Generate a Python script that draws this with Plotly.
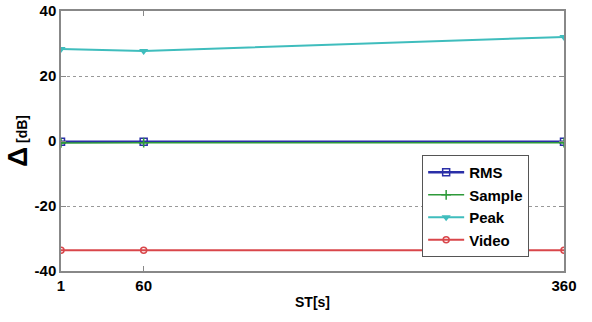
import plotly.graph_objects as go

st = [1, 60, 360]
rms = [-0.2, -0.2, -0.2]
sample = [-0.6, -0.5, -0.5]
peak = [28.3, 27.7, 32.0]
video = [-33.6, -33.6, -33.6]
x_ticks = [1, 60, 360]
y_ticks = [-40, -20, 0, 20, 40]
y_labels = ["-40", "-20", "0", "20", "40"]

fig = go.Figure()
fig.add_trace(go.Scatter(x=st, y=rms, name="RMS", mode="lines+markers",
                         line=dict(color="#2a2fa8", width=2.5),
                         marker=dict(symbol="square-open", size=7, color="#2a2fa8", line=dict(width=1.5))))
fig.add_trace(go.Scatter(x=st, y=sample, name="Sample", mode="lines+markers",
                         line=dict(color="#2e9a3a", width=1.5),
                         marker=dict(symbol="cross-thin-open", size=7, color="#2e9a3a", line=dict(width=1.5))))
fig.add_trace(go.Scatter(x=st, y=peak, name="Peak", mode="lines+markers",
                         line=dict(color="#3fbdbd", width=2),
                         marker=dict(symbol="triangle-down", size=8, color="#3fbdbd")))
fig.add_trace(go.Scatter(x=st, y=video, name="Video", mode="lines+markers",
                         line=dict(color="#d9464a", width=2),
                         marker=dict(symbol="circle-open", size=6, color="#d9464a", line=dict(width=1.5))))

font_family = "Liberation Sans, Arial, sans-serif"
fig.update_layout(
    width=592, height=322,
    margin=dict(l=61, r=28, t=11, b=51, autoexpand=False),
    paper_bgcolor="white", plot_bgcolor="white",
    font=dict(family=font_family, color="black", size=15),
    showlegend=True,
    legend=dict(x=0.718, y=0.446, xanchor="left", yanchor="top",
                bgcolor="white", bordercolor="#555555", borderwidth=1,
                font=dict(family=font_family, size=15, weight="bold"),
                tracegroupgap=0, itemwidth=36, entrywidth=130, entrywidthmode="pixels"),
    xaxis=dict(range=[1, 360], tickvals=x_ticks, ticktext=[str(v) for v in x_ticks],
               automargin=False,
               showgrid=False, zeroline=False, showline=True, linecolor="#888888", linewidth=1.5,
               mirror="ticks", ticks="inside", ticklen=5, tickcolor="#888888",
               tickfont=dict(size=15, weight="bold"),
               title=dict(text="ST[s]", font=dict(size=14, weight="bold"), standoff=4)),
    yaxis=dict(range=[-40, 40], tickvals=y_ticks, ticktext=y_labels,
               automargin=False,
               showgrid=True, gridcolor="#999999", griddash="dot", gridwidth=1,
               zeroline=False, showline=True, linecolor="#888888", linewidth=1.5,
               mirror="ticks", ticks="inside", ticklen=5, tickcolor="#888888",
               tickfont=dict(size=15, weight="bold"),
               title=dict(text="<span style='font-size:28px'>Δ</span> [dB]",
                          font=dict(size=14, weight="bold"), standoff=4)),
)
fig.write_html("out.html", config={"displayModeBar": False},
               post_script="document.body.style.margin='0';document.body.style.overflow='hidden';")
